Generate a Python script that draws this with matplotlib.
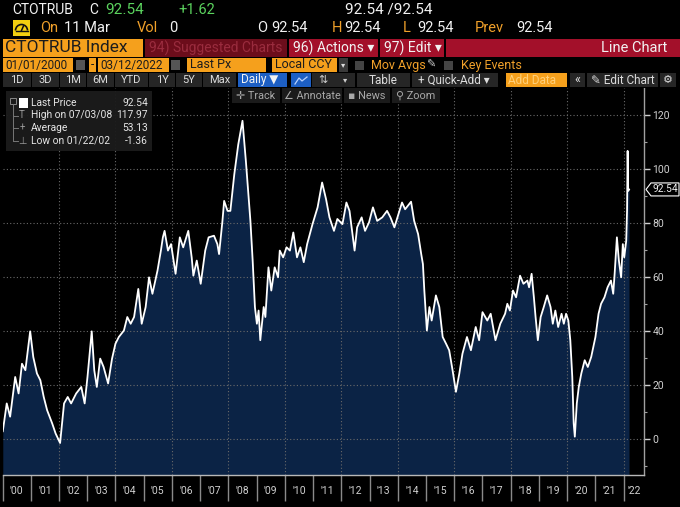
import matplotlib
matplotlib.use("Agg")
import matplotlib.pyplot as plt
from matplotlib.patches import Rectangle, Polygon, Arc
from matplotlib.ticker import FixedLocator, NullFormatter

plt.rcParams['font.family'] = ['Roboto', 'DejaVu Sans']

# ---------------- data ----------------
dates = [
    2000.01, 2000.15, 2000.27, 2000.45, 2000.57, 2000.69, 2000.81, 2000.98,
    2001.09, 2001.22, 2001.34, 2001.46, 2001.58, 2001.76, 2001.88,
    2002.04, 2002.18, 2002.31, 2002.43, 2002.61, 2002.79, 2002.91,
    2003.01, 2003.16, 2003.25, 2003.34, 2003.46, 2003.58, 2003.74, 2003.88,
    2004.00, 2004.12, 2004.30, 2004.42, 2004.54, 2004.66, 2004.81, 2004.93,
    2005.07, 2005.19, 2005.31, 2005.49, 2005.61, 2005.68, 2005.74, 2005.86, 2005.97,
    2006.13, 2006.28, 2006.40, 2006.58, 2006.70, 2006.76, 2006.88,
    2007.02, 2007.18, 2007.30, 2007.49, 2007.61, 2007.67, 2007.79, 2007.85, 2007.97,
    2008.07, 2008.21, 2008.35, 2008.50, 2008.62, 2008.71, 2008.78, 2008.86, 2008.94,
    2009.01, 2009.07, 2009.13, 2009.19, 2009.25, 2009.31, 2009.42, 2009.52, 2009.64,
    2009.76, 2009.82, 2009.94,
    2010.06, 2010.18, 2010.30, 2010.43, 2010.55, 2010.67, 2010.79, 2010.98,
    2011.16, 2011.32, 2011.46, 2011.58, 2011.74, 2011.86,
    2012.04, 2012.18, 2012.29, 2012.47, 2012.56, 2012.72, 2012.84, 2012.98,
    2013.12, 2013.27, 2013.45, 2013.62, 2013.74, 2013.88,
    2014.06, 2014.15, 2014.26, 2014.47, 2014.58, 2014.72, 2014.83, 2014.89, 2014.94,
    2015.03, 2015.12, 2015.20, 2015.35, 2015.47, 2015.59, 2015.71, 2015.82, 2015.94,
    2016.06, 2016.18, 2016.29, 2016.45, 2016.59, 2016.76, 2016.88,
    2017.00, 2017.17, 2017.29, 2017.46, 2017.63, 2017.80, 2017.88, 2017.97,
    2018.08, 2018.19, 2018.33, 2018.45, 2018.59, 2018.65, 2018.74, 2018.82, 2018.88, 2018.96,
    2019.06, 2019.17, 2019.29, 2019.41, 2019.49, 2019.58, 2019.68, 2019.80, 2019.88, 2019.96,
    2020.04, 2020.11, 2020.18, 2020.23, 2020.27, 2020.34, 2020.41, 2020.50, 2020.62,
    2020.73, 2020.85,
    2021.00, 2021.11, 2021.20, 2021.32, 2021.43, 2021.55, 2021.63, 2021.68, 2021.76,
    2021.83, 2021.91, 2021.97,
    2022.02, 2022.09, 2022.12, 2022.14, 2022.16, 2022.19,
]
prices = [
    3.0, 13.3, 8.4, 23.1, 17.0, 28.0, 25.6, 40.0,
    30.5, 24.4, 21.9, 15.7, 10.8, 5.9, 2.2,
    -1.36, 13.3, 15.7, 13.3, 17.0, 19.4, 13.3,
    23.1, 40.0, 25.6, 19.4, 29.9, 26.8, 20.7, 29.9,
    35.4, 37.9, 40.3, 45.3, 42.8, 45.3, 55.7, 42.8,
    49.0, 60.0, 53.9, 62.5, 69.9, 74.8, 77.2, 69.9, 72.3,
    61.3, 74.8, 71.1, 77.2, 67.4, 60.6, 66.2,
    57.6, 69.9, 74.8, 75.4, 72.3, 68.6, 80.9, 88.3, 84.6,
    84.6, 98.2, 109.2, 117.97, 103.0, 90.8, 80.9, 66.2, 49.0,
    42.8, 47.7, 36.7, 42.8, 49.0, 45.3, 63.7, 55.1, 63.7,
    60.0, 69.9, 67.4,
    71.1, 69.9, 76.6, 67.4, 71.1, 65.6, 72.3, 79.7,
    85.9, 95.1, 88.9, 82.2, 77.2, 81.6,
    79.7, 87.7, 84.6, 69.9, 78.5, 82.2, 77.2, 80.3,
    85.9, 80.9, 82.2, 84.6, 82.2, 78.5,
    84.6, 87.7, 85.2, 88.0, 80.9, 76.0, 68.6, 64.9, 55.1,
    40.3, 49.0, 44.0, 53.3, 49.0, 37.9, 35.4, 33.0, 25.6,
    17.6, 24.4, 31.7, 37.9, 33.0, 41.6, 36.7,
    47.1, 44.0, 46.5, 36.7, 42.8, 46.5, 50.2, 47.7,
    55.1, 52.6, 60.6, 57.6, 58.8, 56.3, 61.3, 52.6, 45.3, 36.7,
    45.3, 49.0, 53.3, 49.0, 42.8, 47.7, 41.6, 46.5, 42.8, 46.5,
    44.0, 36.7, 23.1, 5.9, 1.0, 13.3, 19.4, 24.4, 29.3,
    26.8, 30.5,
    37.9, 46.5, 50.2, 52.6, 56.3, 58.8, 53.9, 61.3, 74.8,
    66.2, 60.0, 72.3,
    67.4, 73.5, 84.6, 106.8, 92.0, 92.54,
]
year_ticks = [2000, 2001, 2002, 2003, 2004, 2005, 2006, 2007, 2008, 2009, 2010,
              2011, 2012, 2013, 2014, 2015, 2016, 2017, 2018, 2019, 2020, 2021, 2022]
year_labels = ["'00", "'01", "'02", "'03", "'04", "'05", "'06", "'07", "'08", "'09",
               "'10", "'11", "'12", "'13", "'14", "'15", "'16", "'17", "'18", "'19",
               "'20", "'21", "'22"]
grid_years = [2002, 2004, 2006, 2008, 2010, 2012, 2014, 2016, 2018, 2020, 2022]
y_major = [0, 20, 40, 60, 80, 100, 120]
y_minor = [-10, 10, 30, 50, 70, 90, 110]
last_price = 92.54

# ---------------- figure ----------------
W, H = 680, 507
fig = plt.figure(figsize=(W / 100, H / 100), dpi=100, facecolor='black')

XMIN, XMAX = 2000.0, 2022.72
YMIN, YMAX = -13.2, 130.1
AX_L, AX_R, AX_T, AX_B = 2.5, 644, 88, 475
ax = fig.add_axes([AX_L / W, (H - AX_B) / H, (AX_R - AX_L) / W, (AX_B - AX_T) / H])
ax.set_facecolor('black')
ax.set_xlim(XMIN, XMAX)
ax.set_ylim(YMIN, YMAX)

ax.fill_between(dates, prices, YMIN, color='#0b2345', lw=0, zorder=1)
for gy in y_major:
    ax.axhline(gy, color='#6a6a6a', lw=0.8, ls=(0, (1, 2)), zorder=2)
for gx in grid_years:
    ax.axvline(gx, color='#6a6a6a', lw=0.8, ls=(0, (1, 2)), zorder=2)
ax.plot(dates, prices, color='white', lw=1.3, zorder=3)

for s in ['left', 'top']:
    ax.spines[s].set_visible(False)
ax.spines['right'].set_color('#a0a0a0')
ax.spines['bottom'].set_color('#b8b8b8')
ax.spines['right'].set_linewidth(1.0)
ax.spines['bottom'].set_linewidth(1.0)

ax.yaxis.tick_right()
ax.set_yticks(y_major)
ax.set_yticklabels([str(v) for v in y_major])
ax.yaxis.set_minor_locator(FixedLocator(y_minor))
ax.tick_params(axis='y', which='major', direction='out', length=4, width=1,
               colors='#d0d0d0', labelsize=7.5, pad=2)
ax.tick_params(axis='y', which='minor', direction='out', length=2.5, width=0.8,
               colors='#a0a0a0')

label_pos = [y + 0.5 for y in year_ticks[:-1]] + [(year_ticks[-1] + XMAX) / 2]
ax.set_xticks(year_ticks)
ax.xaxis.set_major_formatter(NullFormatter())
ax.xaxis.set_minor_locator(FixedLocator(label_pos))
ax.set_xticklabels(year_labels, minor=True)
ax.tick_params(axis='x', which='major', direction='out', length=19, width=1,
               colors='#8a8a8a')
ax.tick_params(axis='x', which='minor', length=0, labelsize=7.5,
               labelcolor='#d0d0d0', pad=8)

# ---------------- overlay (terminal header) ----------------
ov = fig.add_axes([0, 0, 1, 1], zorder=10)
ov.set_xlim(0, W)
ov.set_ylim(H, 0)
ov.axis('off')
ov.patch.set_alpha(0)

ORANGE = '#f5a01c'
RED = '#a3102a'
WHITE = '#f2f2f2'
GREEN = '#5bd35e'
TXTOR = '#f0a02a'


def rect(x0, y0, x1, y1, color, **kw):
    ov.add_patch(Rectangle((x0, y0), x1 - x0, y1 - y0, facecolor=color,
                           edgecolor='none', **kw))


def txt(x, y, s, color=WHITE, size=8, ha='left', **kw):
    ov.text(x, y, s, color=color, fontsize=size, ha=ha, va='center', **kw)


# price tag at the last value on the right axis
py = AX_B - (last_price - YMIN) / (YMAX - YMIN) * (AX_B - AX_T)
ov.add_patch(Polygon([(646, py), (651, py - 6.5), (679, py - 6.5), (679, py + 6.5),
                      (651, py + 6.5)], closed=True, facecolor='black',
                     edgecolor='white', lw=0.8))
txt(665.5, py, f"{last_price:.2f}", WHITE, 7.3, ha='center')

# black header background
rect(0, 0, W, 88, 'black')

# row 1
txt(12, 10, 'CTOTRUB', WHITE, 10)
txt(89, 10, 'C', WHITE, 10)
txt(105, 10, '92.54', GREEN, 11)
txt(178, 10, '+1.62', GREEN, 10.5)
txt(345, 10, '92.54 /92.54', WHITE, 11)

# row 2
rect(13, 20, 30, 36, '#f2cf10')
ov.add_patch(Arc((21.5, 30.5), 12, 12, theta1=180, theta2=360, color='#111111', lw=1.2))
ov.plot([21.5, 23.5], [30.5, 26], color='#111111', lw=1.1)
ov.plot([15.5, 27.5], [30.5, 30.5], color='#111111', lw=1.0)
txt(40, 28, 'On', TXTOR, 10.5)
txt(64, 28, '11 Mar', WHITE, 10.5)
txt(137, 28, 'Vol', TXTOR, 10.5)
txt(169, 28, '0', WHITE, 10.5)
txt(257, 28, 'O', WHITE, 10.5)
txt(271, 28, '92.54', WHITE, 10.5)
txt(332, 28, 'H', TXTOR, 10.5)
txt(344, 28, '92.54', WHITE, 10.5)
txt(403, 28, 'L', TXTOR, 10.5)
txt(417, 28, '92.54', WHITE, 10.5)
txt(475, 28, 'Prev', TXTOR, 10.5)
txt(516, 28, '92.54', WHITE, 10.5)

# row 3
rect(3, 39, 143, 57, ORANGE)
txt(5, 48, 'CTOTRUB Index', '#1c1c1c', 12.5)
rect(145, 39, 287, 57, '#6c0d1b')
txt(149, 48, '94) Suggested Charts', '#9a2c3e', 10)
rect(289, 39, 378, 57, RED)
txt(293, 48, '96) Actions ▾', WHITE, 10)
rect(380, 39, 444, 57, RED)
txt(384, 48, '97) Edit ▾', WHITE, 10)
rect(446, 39, W, 57, RED)
txt(667, 48, 'Line Chart', WHITE, 10.5, ha='right')

# row 4
rect(3, 58, 73, 72, ORANGE)
txt(5, 65, '01/01/2000', '#1c1c1c', 8.5)
rect(76, 60, 85, 70, '#555555')
rect(89, 58, 96, 72, ORANGE)
txt(92.5, 65, '-', '#1c1c1c', 8.5, ha='center')
rect(98, 58, 169, 72, ORANGE)
txt(100, 65, '03/12/2022', '#1c1c1c', 8.5)
rect(171, 60, 180, 70, '#555555')
rect(187, 58, 266, 72, ORANGE)
txt(190, 65, 'Last Px', '#1c1c1c', 9)
rect(272, 58, 337, 72, ORANGE)
txt(275, 65, 'Local CCY', '#1c1c1c', 9)
rect(339, 58, 348, 72, '#3a3a3a')
txt(343.5, 65, '▾', '#dddddd', 6, ha='center')
rect(355, 61, 364, 70, '#444444')
txt(371, 65, 'Mov Avgs', TXTOR, 9)
txt(426, 65, '✎', '#cccccc', 8)
rect(444, 61, 453, 70, '#444444')
txt(461, 65, 'Key Events', TXTOR, 9)

# row 5
BTN = '#262626'
buttons = [(3, 31, '1D'), (32, 59, '3D'), (60, 86, '1M'), (87, 114, '6M'),
           (115, 148, 'YTD'), (149, 175, '1Y'), (176, 202, '5Y'), (203, 236, 'Max')]
for x0, x1, lab in buttons:
    rect(x0, 73, x1, 87, BTN)
    txt((x0 + x1) / 2, 80, lab, '#dcdcdc', 8, ha='center')
rect(238, 73, 287, 87, '#1d5fc4')
txt(241, 80, 'Daily ▼', WHITE, 8.5)
rect(291, 73, 311, 87, '#1d5fc4')
ov.plot([295, 299, 302, 307], [84, 78, 81, 77], color='#b8d2ff', lw=0.9)
rect(312, 73, 355, 87, BTN)
txt(318, 80, '⇅', '#cccccc', 8)
txt(345, 80, '▾', '#cccccc', 6, ha='center')
rect(357, 73, 410, 87, BTN)
txt(383, 80, 'Table', '#dcdcdc', 8.5, ha='center')
rect(412, 73, 498, 87, BTN)
txt(418, 80, '+ Quick-Add ▾', '#dcdcdc', 8.5)
rect(506, 73, 567, 87, ORANGE)
txt(508, 80, 'Add Data', '#ffd07a', 8.5)
rect(570, 73, 585, 87, BTN)
txt(577, 80, '«', '#dcdcdc', 9, ha='center')
rect(587, 73, 658, 87, BTN)
txt(591, 80, '✎ Edit Chart', '#dcdcdc', 8.5)
rect(660, 73, 676, 87, BTN)
txt(668, 80, '⚙', '#dcdcdc', 8, ha='center')

# row 6
BTN2 = '#1b1b1b'
for x0, x1, lab in [(232, 280, '✛ Track'), (282, 342, '∠ Annotate'),
                    (344, 390, '▪ News'), (392, 440, '⚲ Zoom')]:
    rect(x0, 88, x1, 103, BTN2)
    txt((x0 + x1) / 2, 96, lab, '#a8a8a8', 7.8, ha='center')

# legend box
rect(6, 91, 152, 151, '#1c1c1c', alpha=0.95)
rect(19, 98, 28, 108, 'white')
ov.plot([13, 13], [104, 140], color='#777777', lw=0.7)
ov.add_patch(Rectangle((10, 98), 6, 6, facecolor='none', edgecolor='#888888', lw=0.7))
leg_rows = [(103, 'Last Price', '92.54', ''), (115.5, 'High on 07/03/08', '117.97', 'T'),
            (128, 'Average', '53.13', '+'), (140.5, 'Low on 01/22/02', '-1.36', '⊥')]
for yy, lab, val, sym in leg_rows:
    txt(31, yy, lab, '#e6e6e6', 7.4)
    txt(148, yy, val, '#e6e6e6', 7.4, ha='right')
    if sym:
        ov.plot([13, 18], [yy, yy], color='#777777', lw=0.7)
        txt(22, yy, sym, '#9a9a9a', 7, ha='center')

fig.savefig('out.png', dpi=100, facecolor='black')
